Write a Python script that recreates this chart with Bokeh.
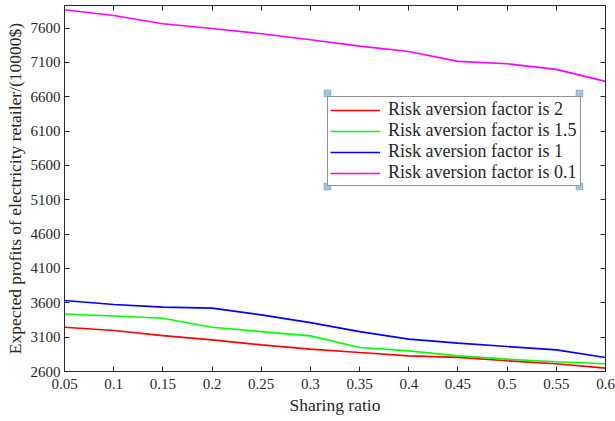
from bokeh.plotting import figure
from bokeh.models import FixedTicker, LinearAxis, Legend, LegendItem, Range1d, BoxAnnotation
from bokeh.embed import file_html
from bokeh.resources import INLINE

sharing_ratio = [0.05, 0.1, 0.15, 0.2, 0.25, 0.3, 0.35, 0.4, 0.45, 0.5, 0.55, 0.6]
x_tick_labels = ["0.05", "0.1", "0.15", "0.2", "0.25", "0.3", "0.35", "0.4", "0.45", "0.5", "0.55", "0.6"]
y_ticks = [2600, 3100, 3600, 4100, 4600, 5100, 5600, 6100, 6600, 7100, 7600]

risk_2 = [3245, 3196, 3123, 3061, 2988, 2926, 2876, 2828, 2805, 2756, 2712, 2649]
risk_1_5 = [3437, 3409, 3376, 3245, 3181, 3119, 2949, 2901, 2828, 2780, 2741, 2712]
risk_1 = [3635, 3576, 3537, 3523, 3425, 3312, 3181, 3071, 3013, 2963, 2915, 2803]
risk_0_1 = [7867, 7785, 7664, 7596, 7519, 7431, 7338, 7261, 7116, 7082, 7000, 6825]

series = [
    ("Risk aversion factor is 2", risk_2, "#FF0000"),
    ("Risk aversion factor is 1.5", risk_1_5, "#00FF00"),
    ("Risk aversion factor is 1", risk_1, "#0000FF"),
    ("Risk aversion factor is 0.1", risk_0_1, "#FF00FF"),
]

FONT = "Liberation Serif"
AX = "#262626"

p = figure(width=615, height=421, output_backend="svg", toolbar_location=None,
           x_range=Range1d(0.05, 0.6), y_range=Range1d(2600, 7930),
           min_border_left=64, min_border_right=10, min_border_top=5, min_border_bottom=50,
           background_fill_color="white", border_fill_color="white")
p.xgrid.visible = False
p.ygrid.visible = False
p.outline_line_color = AX
p.outline_line_width = 1

items = []
for name, ys, col in series:
    r = p.line(sharing_ratio, ys, line_color=col, line_width=1.6)
    items.append(LegendItem(label=name, renderers=[r]))

xt = FixedTicker(ticks=sharing_ratio, minor_ticks=[])
yt = FixedTicker(ticks=y_ticks, minor_ticks=[])

def style(ax):
    ax.axis_line_color = AX
    ax.major_tick_line_color = AX
    ax.major_tick_in = 5
    ax.major_tick_out = 0
    ax.minor_tick_line_color = None
    ax.major_label_text_font = FONT
    ax.major_label_text_color = AX
    ax.major_label_text_font_size = "15px"
    ax.axis_label_text_font = FONT
    ax.axis_label_text_font_style = "normal"
    ax.axis_label_text_color = AX
    ax.axis_label_text_font_size = "17.5px"

xa = p.xaxis[0]
xa.ticker = xt
xa.major_label_overrides = {t: l for t, l in zip(sharing_ratio, x_tick_labels)}
xa.axis_label = "Sharing ratio"
xa.major_label_standoff = 7
xa.axis_label_standoff = 3
style(xa)

ya = p.yaxis[0]
ya.ticker = yt
ya.axis_label = "Expected profits of electricity retailer/(10000$)"
ya.major_label_standoff = 4
ya.axis_label_standoff = 3
style(ya)

top = LinearAxis(ticker=FixedTicker(ticks=sharing_ratio, minor_ticks=[]))
style(top)
top.major_label_overrides = {t: "" for t in sharing_ratio}
top.major_label_standoff = 0
p.add_layout(top, "above")
right = LinearAxis(ticker=FixedTicker(ticks=y_ticks, minor_ticks=[]))
style(right)
right.major_label_overrides = {t: "" for t in y_ticks}
right.major_label_standoff = 0
p.add_layout(right, "right")

legend = Legend(items=items, location=(263, 185))
legend.label_text_font = FONT
legend.label_text_font_size = "18px"
legend.label_text_color = AX
legend.label_height = 18
legend.label_width = 190
legend.glyph_height = 18
legend.glyph_width = 50
legend.label_standoff = 8
legend.spacing = 0
legend.padding = 2
legend.margin = 0
legend.border_line_color = AX
legend.border_line_width = 1
legend.background_fill_color = "white"
legend.background_fill_alpha = 1
p.add_layout(legend, "center")

# selection handles at the legend corners (screen units: x from frame left, y from frame bottom)
for cx, cy in [(263, 185), (515, 185), (263, 278), (515, 278)]:
    p.add_layout(BoxAnnotation(left=cx - 3.5, right=cx + 3.5, bottom=cy - 3.5, top=cy + 3.5,
                               left_units="screen", right_units="screen",
                               top_units="screen", bottom_units="screen",
                               fill_color="#9EC6E6", fill_alpha=1,
                               line_color="#3C78B4", line_width=1, level="overlay"))

out = file_html(p, INLINE)
open("out.html", "w").write(out)
